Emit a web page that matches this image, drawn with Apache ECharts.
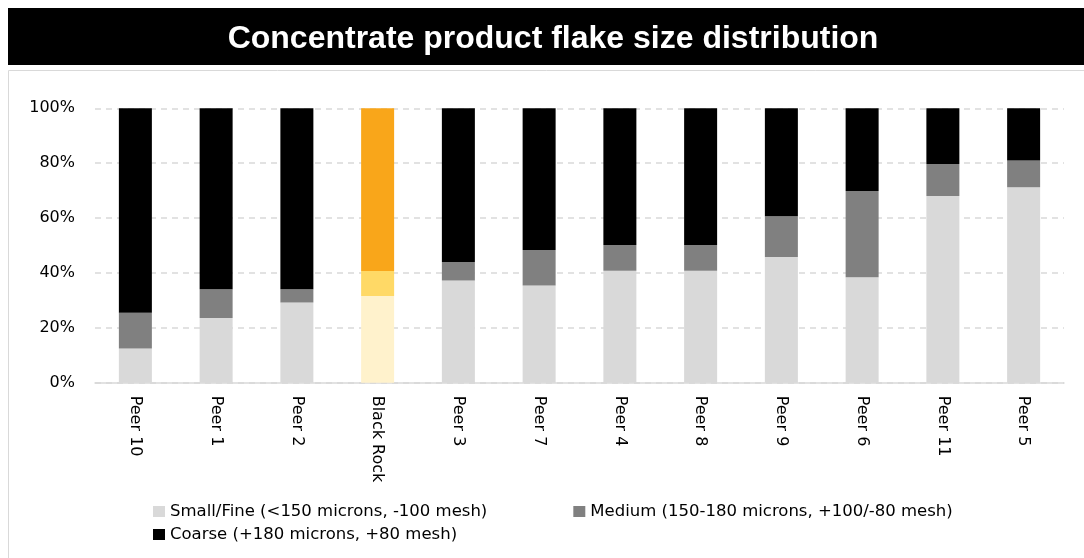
<!DOCTYPE html>
<html><head><meta charset="utf-8">
<script src="https://cdn.jsdelivr.net/npm/echarts@6/dist/echarts.min.js"></script>
<style>html,body{margin:0;padding:0;background:#fff;}#c{width:1084px;height:558px;}</style>
</head><body><div id="c"></div>
<script>
const categories = ['Peer 10','Peer 1','Peer 2','Black Rock','Peer 3','Peer 7','Peer 4','Peer 8','Peer 9','Peer 6','Peer 11','Peer 5'];
const fine   = [12.5, 23.6, 29.2, 31.6, 37.2, 35.4, 40.8, 40.8, 45.8, 38.4, 68.0, 71.2];
const medium = [13.0, 10.5, 4.9, 9.1, 6.8, 13.0, 9.4, 9.4, 14.9, 31.5, 11.7, 9.8];
const coarse = [74.5, 65.9, 65.9, 59.3, 56.0, 51.6, 49.8, 49.8, 39.3, 30.1, 20.3, 19.0];
const yTicks = ['0%','20%','40%','60%','80%','100%'];
const highlight = 'Black Rock';
const seriesNames = ['Small/Fine (<150 microns, -100 mesh)','Medium (150-180 microns, +100/-80 mesh)','Coarse (+180 microns, +80 mesh)'];
const baseColors = ['#D9D9D9','#808080','#000000'];
const hiColors = ['#FFF2CC','#FFD966','#F9A61A'];

const chart = echarts.init(document.getElementById('c'));
function mk(vals, idx){
  return {
    name: seriesNames[idx], type:'bar', stack:'s', barWidth:33,
    itemStyle:{color:baseColors[idx]},
    data: vals.map((v,i)=> categories[i]===highlight ? {value:v, itemStyle:{color:hiColors[idx]}} : v)
  };
}
const tfont = 'Liberation Sans, Arial, sans-serif';
const font = 'DejaVu Sans, sans-serif';
chart.setOption({
  animation:false,
  graphic:[
    {type:'rect', shape:{x:8,y:8,width:1076,height:57}, style:{fill:'#000'}},
    {type:'rect', shape:{x:8.5,y:70.5,width:1090,height:500}, style:{fill:'none',stroke:'#d9d9d9',lineWidth:1}}
  ],
  title:{text:'Concentrate product flake size distribution', left:548, top:18, textAlign:'center',
    textStyle:{color:'#fff',fontSize:32,fontWeight:'bold',fontFamily:tfont}},
  legend:[
    {data:[seriesNames[0],seriesNames[1]], left:153, top:503, padding:0, itemWidth:12, itemHeight:11, itemGap:86, icon:'rect',
     textStyle:{fontSize:16.5,color:'#000',fontFamily:font}},
    {data:[seriesNames[2]], left:153, top:526, padding:0, itemWidth:12, itemHeight:11, icon:'rect',
     textStyle:{fontSize:16.5,color:'#000',fontFamily:font}}
  ],
  grid:{left:95, right:20, top:108.3, bottom:175.3, containLabel:false},
  xAxis:{type:'category', data:categories,
    axisLine:{lineStyle:{color:'#d9d9d9',width:1.5}}, axisTick:{show:false},
    axisLabel:{rotate:-90, color:'#000', fontSize:16, fontFamily:font, margin:13, interval:0}},
  yAxis:{type:'value', min:0, max:100, interval:20,
    axisLabel:{formatter:(v)=>yTicks[v/20], color:'#000', fontSize:16, fontFamily:font, margin:20},
    splitLine:{lineStyle:{color:'#d9d9d9',type:[6,5],width:1.5}},
    axisLine:{show:false}, axisTick:{show:false}},
  series:[mk(fine,0), mk(medium,1), mk(coarse,2)]
});
</script></body></html>
